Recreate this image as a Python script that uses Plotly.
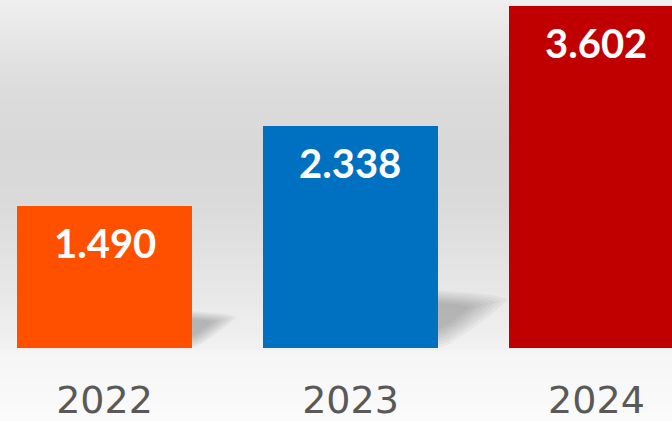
import plotly.graph_objects as go
import numpy as np

# ---- data ----
years = ["2022", "2023", "2024"]
values = [1.490, 2.338, 3.602]
value_labels = ["1.490", "2.338", "3.602"]
bar_colors = ["#FF5000", "#0070C0", "#C00000"]

# ---- layout constants ----
W, H = 672, 421
MB = 73
plot_h = H - MB
bar_width = 0.711
x_pos = list(range(len(years)))
x_range = [-0.4248, 2.307]
y_range = [0, 3.663]

fig = go.Figure(
    go.Bar(
        x=x_pos,
        y=values,
        width=bar_width,
        marker=dict(color=bar_colors, line=dict(width=0)),
        hoverinfo="skip",
    )
)

shapes = []

# background vertical gradient (pixel rows -> paper coords)
stops_px = [0, 40, 90, 150, 200, 250, 300, 348, 352, 421]
stops_gray = [239, 230, 220, 216, 218, 225, 233, 241, 245, 251]
step = 3
for py in range(0, H, step):
    g = int(round(np.interp(py + step / 2, stops_px, stops_gray)))
    y0 = (plot_h - py) / plot_h
    y1 = (plot_h - py - step) / plot_h
    shapes.append(dict(type="rect", xref="paper", yref="paper",
                       x0=-0.01, x1=1.01, y0=y1 - 0.001, y1=y0 + 0.001,
                       fillcolor=f"rgb({g},{g},{g})", line=dict(width=0),
                       layer="below"))

# soft shadows to the right of each bar (scaled from bar value)
n_layers = 7
for i, v in enumerate(values):
    R = x_pos[i] + bar_width / 2
    h = 0.26 * v
    w = 0.122 * v
    base_pts = [(0, 0.0), (0, 1.0), (0.55, 0.95), (0.85, 0.9), (1.0, 0.84),
                (0.8, 0.62), (0.45, 0.3), (0.15, 0.06)]
    for k in range(n_layers):
        s = 1.0 - 0.09 * k
        cy = 0.6
        pts = [(R + px * w * s, (cy + (py - cy) * s) * h) for px, py in base_pts]
        path = "M " + " L ".join(f"{a:.4f},{b:.4f}" for a, b in pts) + " Z"
        shapes.append(dict(type="path", xref="x", yref="y", path=path,
                           fillcolor="rgba(0,0,0,0.035)", line=dict(width=0),
                           layer="below"))

annotations = []
for i, v in enumerate(values):
    annotations.append(dict(
        x=x_pos[i], y=v, xref="x", yref="y", text=value_labels[i],
        showarrow=False, yanchor="middle", xanchor="center", yshift=-37,
        font=dict(family="Lato", size=40, color="white", weight="bold"),
    ))

fig.update_layout(
    width=W, height=H,
    margin=dict(l=0, r=0, t=0, b=MB, pad=0, autoexpand=False),
    paper_bgcolor="white",
    plot_bgcolor="rgba(0,0,0,0)",
    showlegend=False,
    bargap=0,
    shapes=shapes,
    annotations=annotations,
    xaxis=dict(range=x_range, tickvals=x_pos, ticktext=years,
               showgrid=False, zeroline=False, showline=False, ticks="",
               tickfont=dict(family="DejaVu Sans", size=38, color="#595959"),
               ticklabelstandoff=26, automargin=False, fixedrange=True),
    yaxis=dict(range=y_range, visible=False, showgrid=False, zeroline=False,
               automargin=False, fixedrange=True),
)

fig.write_html(
    "out.html",
    config={"displayModeBar": False},
    post_script="document.body.style.margin='0';document.body.style.overflow='hidden';",
)
